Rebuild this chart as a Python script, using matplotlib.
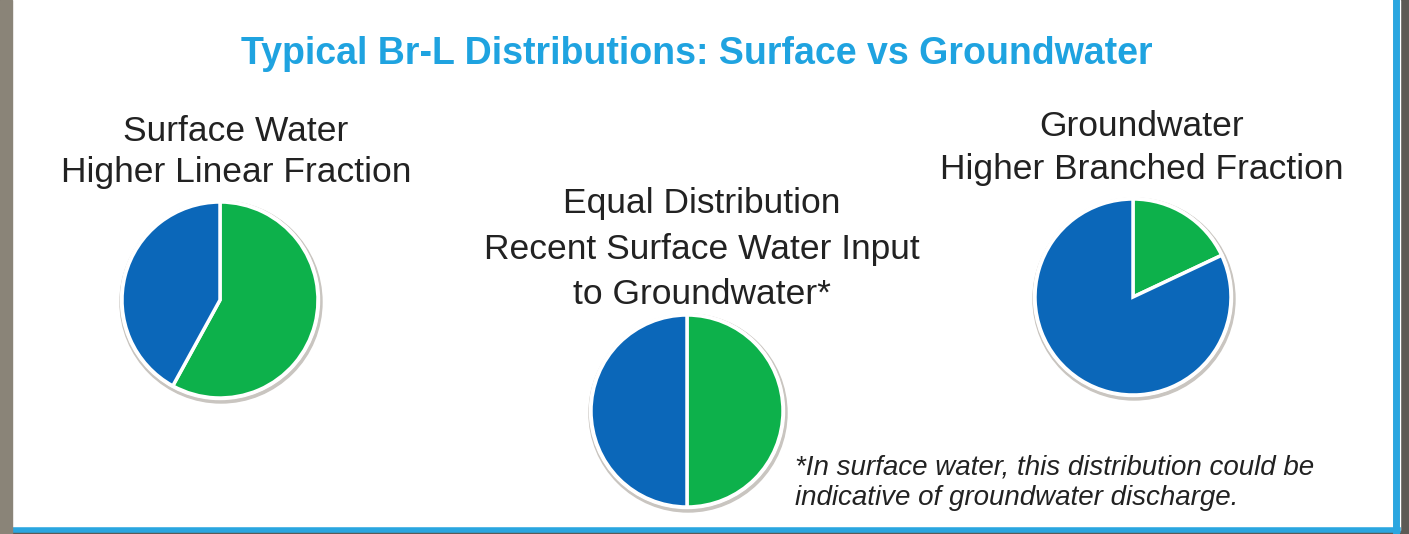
import matplotlib.pyplot as plt
from matplotlib.patches import Rectangle, Circle

# data
titles = ['Surface Water\nHigher Linear Fraction',
          'Equal Distribution\nRecent Surface Water Input\nto Groundwater*',
          'Groundwater\nHigher Branched Fraction']
linear = [58, 50, 18]     # green share (%)
branched = [42, 50, 82]   # blue share (%)

green = '#0DB14B'
blue = '#0B67B9'
W, H = 1409, 534

plt.rcParams['font.family'] = ['Liberation Sans', 'DejaVu Sans']
fig = plt.figure(figsize=(W/100, H/100), dpi=100)
ax = fig.add_axes([0, 0, 1, 1])

# panel + frame
ax.add_patch(Rectangle((0, 0), W, H, color='#5d5a55', zorder=0))
ax.add_patch(Rectangle((12, 4), 1388, H-4, color='white', zorder=1))
ax.plot([1396, 1396], [4, H], color='#2AA6E0', lw=5, zorder=2)
ax.plot([12, 1398], [4, 4], color='#2AA6E0', lw=4, zorder=2)
ax.add_patch(Rectangle((0, 0), 12, H, color='#8a8478', zorder=2))

centers = [(220, 300), (687, 411), (1133, 297)]
radii = [98, 96, 98]
for (cx, cy), r, g, b in zip(centers, radii, linear, branched):
    yy = H - cy
    ax.add_patch(Circle((cx + 1, yy - 2), r + 3, color='#c9c5c0', zorder=3))
    ax.add_patch(Circle((cx, yy), r + 1.5, color='white', zorder=3))
    wedges, _ = ax.pie([g, b], colors=[green, blue], startangle=90, counterclock=False,
                       center=(cx, yy), radius=r, frame=True,
                       wedgeprops=dict(edgecolor='white', linewidth=2.5))
    for w in wedges:
        w.set_zorder(4)

ax.set_xlim(0, W)
ax.set_ylim(0, H)
ax.set_aspect('auto')
ax.axis('off')

ax.text(697, H-54, 'Typical Br-L Distributions: Surface vs Groundwater', color='#1FA3E0',
        fontsize=27, fontweight='bold', ha='center', va='center', zorder=5)

ax.text(236, H-152, titles[0], fontsize=25.5, ha='center', va='center', color='#222222',
        linespacing=1.29, zorder=5)
ax.text(702, H-249, titles[1], fontsize=25.5, ha='center', va='center', color='#222222',
        linespacing=1.47, zorder=5)
ax.text(1142, H-148, titles[2], fontsize=25.5, ha='center', va='center', color='#222222',
        linespacing=1.38, zorder=5)

ax.text(795, H-483, '*In surface water, this distribution could be\nindicative of groundwater discharge.',
        fontsize=20, style='italic', ha='left', va='center', color='#222222',
        linespacing=1.23, zorder=5)

plt.savefig('out.png', dpi=100)
